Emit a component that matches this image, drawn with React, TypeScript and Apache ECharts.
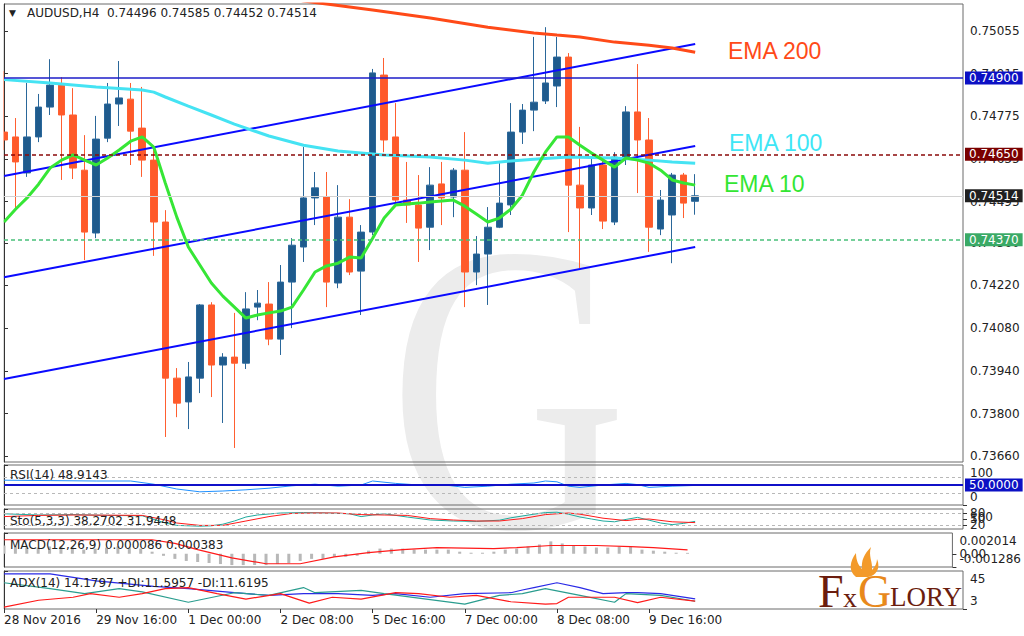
import React, { useEffect, useRef } from "react";
import * as echarts from "echarts";

const FONT = "DejaVu Sans";

const symbolTitle = "AUDUSD,H4";
const timeLabels = ["28 Nov 2016", "29 Nov 16:00", "1 Dec 00:00", "2 Dec 08:00", "5 Dec 16:00", "7 Dec 00:00", "8 Dec 08:00", "9 Dec 16:00"];
const timeLabelIndex = [0, 8, 16, 24, 32, 40, 48, 56];
const priceTicks = [0.7366, 0.738, 0.7394, 0.7408, 0.7422, 0.7436, 0.74495, 0.74635, 0.74775, 0.74915, 0.75055];

// [open, close, low, high]
const candles = [
  [0.74723, 0.74697, 0.74664, 0.74923],
  [0.74707, 0.74625, 0.74467, 0.74769],
  [0.74589, 0.74707, 0.74576, 0.74884],
  [0.74707, 0.74805, 0.7469, 0.74848],
  [0.74805, 0.74877, 0.74779, 0.74962],
  [0.74877, 0.74779, 0.74566, 0.74903],
  [0.74779, 0.74605, 0.74569, 0.74867],
  [0.74598, 0.74395, 0.74303, 0.74713],
  [0.74392, 0.747, 0.74375, 0.74776],
  [0.74703, 0.74815, 0.7469, 0.74884],
  [0.74815, 0.74835, 0.74743, 0.74956],
  [0.74831, 0.74726, 0.74615, 0.74884],
  [0.74736, 0.74631, 0.74576, 0.74871],
  [0.74631, 0.74428, 0.74317, 0.74664],
  [0.74428, 0.73916, 0.73723, 0.74467],
  [0.73916, 0.73834, 0.73788, 0.73949],
  [0.73838, 0.7392, 0.73749, 0.73969],
  [0.73916, 0.74156, 0.73867, 0.74159],
  [0.74156, 0.73959, 0.73854, 0.74165],
  [0.73959, 0.73985, 0.73769, 0.73998],
  [0.73985, 0.73965, 0.73687, 0.7413],
  [0.73965, 0.74143, 0.73946, 0.74198],
  [0.74149, 0.74162, 0.74106, 0.74205],
  [0.74159, 0.74044, 0.74024, 0.74231],
  [0.74044, 0.74231, 0.73992, 0.74287],
  [0.74231, 0.74352, 0.7408, 0.74375],
  [0.74346, 0.74507, 0.74297, 0.74674],
  [0.74507, 0.7454, 0.74418, 0.74592],
  [0.7451, 0.74231, 0.74149, 0.74592],
  [0.74228, 0.74444, 0.74211, 0.74549],
  [0.74444, 0.74264, 0.74254, 0.74503],
  [0.74267, 0.74395, 0.74123, 0.74418],
  [0.74395, 0.74917, 0.74385, 0.7493],
  [0.7491, 0.74697, 0.74657, 0.74966],
  [0.74707, 0.745, 0.74484, 0.74818],
  [0.745, 0.74484, 0.74425, 0.74625],
  [0.74484, 0.74408, 0.74297, 0.74582],
  [0.74411, 0.74549, 0.74336, 0.74608],
  [0.74553, 0.74507, 0.74418, 0.74625],
  [0.7451, 0.74598, 0.74444, 0.74605],
  [0.74598, 0.74264, 0.74149, 0.74723],
  [0.74264, 0.74323, 0.74221, 0.74382],
  [0.74323, 0.74411, 0.74156, 0.74477],
  [0.74411, 0.7449, 0.74408, 0.74621],
  [0.74484, 0.74723, 0.74451, 0.74818],
  [0.74723, 0.74795, 0.74684, 0.74815],
  [0.74795, 0.74821, 0.74726, 0.75035],
  [0.74825, 0.74884, 0.74815, 0.75067],
  [0.74874, 0.74969, 0.74805, 0.75035],
  [0.74969, 0.74549, 0.74395, 0.74982],
  [0.74549, 0.74474, 0.74277, 0.7474],
  [0.74474, 0.74615, 0.74451, 0.74641],
  [0.74615, 0.74431, 0.74405, 0.74631],
  [0.74428, 0.74641, 0.74418, 0.74657],
  [0.74641, 0.74789, 0.74615, 0.74808],
  [0.74789, 0.74697, 0.74523, 0.74946],
  [0.74697, 0.74411, 0.7433, 0.74769],
  [0.74405, 0.745, 0.74385, 0.74533],
  [0.74451, 0.74582, 0.74293, 0.74589],
  [0.74582, 0.7449, 0.74441, 0.74589],
  [0.74496, 0.74514, 0.74452, 0.74585],
];

const ema10 = [
  0.74428, 0.7447, 0.74507, 0.74552, 0.74605, 0.74631, 0.74648, 0.74631, 0.74615, 0.74638,
  0.74664, 0.74693, 0.74707, 0.74674, 0.74556, 0.74444, 0.74346, 0.74287, 0.74228, 0.74185,
  0.74149, 0.74113, 0.74123, 0.7413, 0.74136, 0.74149, 0.74205, 0.74264, 0.74284, 0.74293,
  0.74313, 0.7431, 0.74375, 0.74441, 0.74484, 0.74487, 0.7449, 0.74494, 0.74497, 0.745,
  0.7448, 0.74454, 0.74428, 0.74441, 0.7447, 0.74516, 0.74592, 0.74657, 0.74707, 0.74707,
  0.7468, 0.74654, 0.74631, 0.74608, 0.74638, 0.74631, 0.74621, 0.74598, 0.74566, 0.74556,
  0.74549,
];

const ema100 = [
  [0, 0.74895], [4, 0.74884], [8, 0.74871], [12, 0.74861], [13, 0.74854], [14, 0.74838],
  [16, 0.74808], [18, 0.74779], [20, 0.74749], [23, 0.7471], [26, 0.7468], [29, 0.74661],
  [33, 0.74648], [37, 0.74641], [40, 0.74631], [42, 0.74621], [44, 0.74628], [46, 0.74634],
  [49, 0.74641], [53, 0.74638], [56, 0.74631], [58, 0.74625], [60, 0.74621],
];

const ema200 = [
  [22, 0.75182], [26, 0.75153], [28, 0.75143], [32, 0.75123], [37, 0.75097], [42, 0.75067],
  [46, 0.75048], [48, 0.75041], [50, 0.75035], [53, 0.75018], [56, 0.75008], [58, 0.74999],
  [60, 0.74985],
];

const channelUpper = [[0, 0.74579], [60, 0.75012]];
const channelMiddle = [[0, 0.74247], [60, 0.74677]];
const channelLower = [[0, 0.73913], [60, 0.74346]];

const levelBlue = 0.749;
const levelRed = 0.7465;
const levelBid = 0.74514;
const levelGreen = 0.7437;

const rsi = [
  [0, 62], [4, 61], [8, 60], [11, 60], [13, 52], [15, 40], [17, 33], [19, 35], [21, 38], [23, 42],
  [25, 48], [27, 52], [29, 47], [31, 50], [32, 60], [34, 54], [36, 50], [38, 51], [40, 44], [42, 47],
  [44, 52], [46, 55], [47, 60], [48, 58], [49, 47], [50, 44], [52, 50], [54, 54], [55, 51], [56, 44],
  [58, 47], [60, 48.9143],
];
const rsiLast = 48.9143;

const stochMain = [
  [0, 76], [3, 70], [6, 72], [9, 68], [12, 66], [14, 30], [15, 18], [17, 14], [18, 16], [19, 24],
  [20, 40], [21, 60], [22, 70], [24, 80], [26, 82], [28, 80], [30, 76], [31, 62], [32, 70], [33, 76],
  [35, 60], [37, 45], [39, 40], [41, 38], [43, 44], [44, 56], [46, 74], [47, 82], [48, 84], [49, 74],
  [50, 60], [51, 50], [52, 40], [53, 36], [54, 48], [55, 58], [56, 44], [57, 30], [58, 22], [59, 28],
  [60, 38.2702],
];
const stochSignal = [
  [0, 62], [3, 68], [6, 70], [9, 69], [12, 68], [14, 45], [15, 30], [17, 18], [19, 18], [21, 40],
  [23, 62], [25, 78], [27, 80], [29, 80], [31, 72], [33, 70], [35, 68], [37, 52], [39, 45], [41, 40],
  [43, 40], [45, 52], [47, 72], [49, 80], [50, 74], [52, 54], [54, 42], [55, 48], [56, 50], [58, 36],
  [60, 31.9448],
];
const stochLast = [38.2702, 31.9448];

const macdMain = [
  0.0008, 0.0007, 0.0006, 0.0006, 0.0007, 0.0007, 0.0006, 0.0004, 0.0005, 0.0006,
  0.0007, 0.0006, 0.0005, 0.0002, -0.0002, -0.0005, -0.0007, -0.0008, -0.0009, -0.001,
  -0.0011, -0.0011, -0.0011, -0.0011, -0.001, -0.0009, -0.0007, -0.0005, -0.0005, -0.0003,
  -0.0003, -0.0002, 0.0003, 0.0005, 0.0005, 0.0005, 0.0004, 0.0004, 0.0004, 0.0004,
  0.0002, 0.0001, 0.0001, 0.0002, 0.0004, 0.0005, 0.0007, 0.0009, 0.0012, 0.001,
  0.0008, 0.0007, 0.0006, 0.0006, 0.0007, 0.0007, 0.0004, 0.0003, 0.0002, 0.0001,
  0.000086,
];
const macdSignal = [
  [0, 0.00136], [6, 0.00136], [13, 0.00136], [15, 0.001], [17, 0.0004], [20, -0.0004], [23, -0.00097],
  [26, -0.00097], [29, -0.0003], [32, 0.0001], [35, 0.0004], [38, 0.0006], [43, 0.0005], [45, 0.0006],
  [48, 0.0008], [52, 0.0008], [55, 0.0007], [57, 0.0006], [60, 0.000383],
];
const macdLast = ["0.000086", "0.000383"];

const adx = [
  [0, 41.8], [4, 41.8], [8, 34], [13, 28], [16, 25.6], [20, 21], [23, 18], [26, 20], [29, 20], [32, 18],
  [34, 20], [37, 16], [40, 20], [44, 21], [45, 24], [46, 26.7], [48, 32], [50, 26.7], [52, 20], [54, 21],
  [55, 21], [57, 20], [60, 14.1797],
];
const plusDi = [
  [0, 32], [4, 25.6], [7, 20], [10, 25.6], [12, 22], [16, 10.5], [20, 21], [23, 18], [26, 26.7], [27, 21],
  [31, 23.5], [33, 20], [36, 15], [40, 8.4], [43, 18], [45, 20], [47, 25.6], [50, 18], [53, 10.5], [54, 20],
  [57, 18], [60, 11.5957],
];
const minusDi = [
  [0, 5], [3, 12.7], [6, 16], [7.5, 20], [10, 16], [12, 20], [14, 25.6], [16, 26.7], [18.5, 20], [21, 14],
  [24, 20], [26.5, 9.5], [28.5, 16], [31, 14], [34, 21], [36, 20], [38.7, 16], [41, 18], [44, 11], [47, 8.4],
  [48, 9], [49, 16], [53, 16], [55, 10], [57, 16], [60, 11.6195],
];
const adxLast = [14.1797, 11.5957, 11.6195];

// indicator scale labels: [value, text, shift]
const rsiScale: [number, string, string][] = [[100, "100", "dn"], [0, "0", "up"]];
const stochScale: [number, string, string][] = [[100, "100", "dn"], [80, "80", "n"], [50, "50", "n"], [20, "20", "n"]];
const macdScale: [number, string, string][] = [[0.002014, "0.002014", "dn"], [0, "0.00", "n"], [-0.001286, "-0.001286", "up"]];
const adxScale: [number, string, string][] = [[45, "45", "dn"], [3, "3", "up"]];

const flamePath =
  "M10 30 C2 24 4 14 10 6 C10 14 13 19 16 22 C15 14 18 7 25 0 C22 9 27 15 26 23 C29 20 31 16 31 12 C35 21 30 29 22 30 Z";
echarts.graphic.registerShape("flame", echarts.graphic.extendPath(flamePath, {}));

const XMAX = 83.25;

function buildOption() {
  const lab = { fontSize: 12, fontFamily: FONT, color: "#222" };
  const rich = {
    dn: { ...lab, padding: [16, 0, 0, 0] },
    up: { ...lab, padding: [0, 0, 16, 0] },
    n: { ...lab },
  };
  const gridDefs = [
    { top: 4, height: 458 },
    { top: 465, height: 40 },
    { top: 509, height: 20 },
    { top: 533, height: 34 },
    { top: 571, height: 38 },
  ];
  const grid = gridDefs.map((g) => ({
    left: 4, right: 61, top: g.top, height: g.height,
    show: true, borderColor: "#6a6a6a", borderWidth: 1, backgroundColor: "transparent",
  }));
  const xAxis = [0, 1, 2, 3, 4].map((i) => ({
    type: "value", gridIndex: i, min: 0, max: XMAX, show: i === 4,
    axisLine: { show: false }, splitLine: { show: false },
    axisTick: { show: i === 4, customValues: timeLabelIndex, length: 4, lineStyle: { color: "#333" } },
    axisLabel: {
      show: i === 4, customValues: timeLabelIndex,
      formatter: (v: number) => timeLabels[timeLabelIndex.indexOf(Math.round(v))] ?? "",
      align: "left", margin: 5, ...lab,
    },
  }));

  const yAxis: any[] = [];
  const mainAxisOf: number[] = [];
  yAxis.push({
    type: "value", gridIndex: 0, position: "right", min: 0.73641, max: 0.75143,
    axisLine: { show: true, lineStyle: { color: "#333", width: 1 } },
    axisTick: { show: true, length: 4, customValues: priceTicks, lineStyle: { color: "#333" } },
    axisLabel: { customValues: priceTicks, formatter: (v: number) => v.toFixed(5), margin: 7, ...lab },
    splitLine: { show: false },
  });
  mainAxisOf.push(0);
  const panels: [number, number, number, [number, string, string][]][] = [
    [1, 0, 100, rsiScale],
    [2, 0, 100, stochScale],
    [3, -0.001286, 0.002014, macdScale],
    [4, 3, 45, adxScale],
  ];
  panels.forEach(([g, mn, mx, scale]) => {
    mainAxisOf[g] = yAxis.length;
    scale.forEach(([val, text, shift], k) => {
      yAxis.push({
        type: "value", gridIndex: g, position: "right", min: mn, max: mx,
        axisLine: { show: k === 0, lineStyle: { color: "#333", width: 1 } },
        axisTick: { show: true, length: 4, customValues: [val], lineStyle: { color: "#333" } },
        axisLabel: {
          customValues: [val], formatter: () => "{" + shift + "|" + text + "}",
          margin: 7, ...lab, rich, showMinLabel: true, showMaxLabel: true,
        },
        splitLine: { show: false },
      });
    });
  });

  const tag = (bg: string, text: string) => ({
    show: true, position: "end", distance: 2, formatter: text,
    color: "#fff", backgroundColor: bg, padding: [1, 4, 0, 4], fontSize: 12, fontFamily: FONT,
  });

  const line = (g: number, data: any, color: string, width: number, extra: any = {}) => ({
    type: "line", xAxisIndex: g, yAxisIndex: mainAxisOf[g], data, showSymbol: false, symbol: "none",
    lineStyle: { color, width }, silent: true, z: 4, ...extra,
  });

  const mk = (data: any[]) => ({ symbol: ["none", "none"], silent: true, animation: false, precision: 6, data });

  const priceLevels = mk([
    { yAxis: levelBid, lineStyle: { color: "#d2d2d2", width: 1, type: "solid" }, label: tag("#202020", levelBid.toFixed(5)) },
    { yAxis: levelBlue, lineStyle: { color: "#1c1cc8", width: 1.5, type: "solid" }, label: tag("#0c10c4", levelBlue.toFixed(5)) },
    { yAxis: levelRed, lineStyle: { color: "#8b0a0a", width: 1.5, type: [4, 3] }, label: tag("#7a0000", levelRed.toFixed(5)) },
    { yAxis: levelGreen, lineStyle: { color: "#48c07a", width: 1.5, type: [4, 3] }, label: tag("#3aaa66", levelGreen.toFixed(5)) },
  ]);

  const series: any[] = [
    {
      type: "candlestick", xAxisIndex: 0, yAxisIndex: 0,
      data: candles.map((c, i) => [i, c[0], c[1], c[2], c[3]]),
      encode: { x: 0, y: [1, 2, 3, 4] },
      barWidth: 7,
      itemStyle: { color: "#1f5b8d", color0: "#ff5a2a", borderColor: "#2a679a", borderColor0: "#ff5f30", borderWidth: 1 },
      z: 3,
    },
    line(0, channelUpper, "#0a0aff", 2, { markLine: priceLevels }),
    line(0, channelMiddle, "#0a0aff", 2),
    line(0, channelLower, "#0a0aff", 2),
    line(0, ema200, "#ff4a18", 3),
    line(0, ema100, "#45e3f3", 3),
    line(0, ema10.map((v, i) => [i, v]), "#36e636", 3),
    line(1, rsi, "#1e90ff", 1, {
      markLine: mk([
        { yAxis: 70, lineStyle: { color: "#b8b8b8", width: 1, type: [3, 3] }, label: { show: false } },
        { yAxis: 30, lineStyle: { color: "#b8b8b8", width: 1, type: [3, 3] }, label: { show: false } },
        { yAxis: 50, lineStyle: { color: "#1010c8", width: 2, type: "solid" }, label: tag("#0c10c4", "50.0000") },
      ]),
    }),
    line(2, stochMain, "#20aa9e", 1, {
      markLine: mk([
        { yAxis: 80, lineStyle: { color: "#b8b8b8", width: 1, type: [3, 3] }, label: { show: false } },
        { yAxis: 20, lineStyle: { color: "#b8b8b8", width: 1, type: [3, 3] }, label: { show: false } },
      ]),
    }),
    line(2, stochSignal, "#ff1a1a", 1),
    {
      type: "bar", xAxisIndex: 3, yAxisIndex: mainAxisOf[3], barWidth: 3, silent: true,
      data: macdMain.map((v, i) => [i, v]), itemStyle: { color: "#b8b8b8" },
    },
    line(3, macdSignal, "#ff1a1a", 1.2),
    line(4, adx, "#2a2ae6", 1.2),
    line(4, plusDi, "#2a9d8f", 1.2),
    line(4, minusDi, "#ff1a1a", 1.2),
  ];

  const last = candles[candles.length - 1];
  const ohlc = [last[0], last[3], last[2], last[1]].map((v) => v.toFixed(5)).join(" ");
  const txt = (x: number, y: number, text: string, extra: any = {}) => ({
    type: "text", x, y, z: 10, silent: true,
    style: { text, fontSize: 12, fontFamily: FONT, fill: "#222", align: "left", verticalAlign: "middle", ...extra },
  });

  const graphic = [
    {
      type: "text", x: 508, y: 388, z: -1, silent: true, scaleX: 1, scaleY: 1.25,
      style: { text: "G", fontSize: 330, fontFamily: "Liberation Serif", fill: "#ececec", align: "center", verticalAlign: "middle" },
    },
    { type: "rect", z: 20, silent: true, shape: { x: 0, y: 0, width: 3.5, height: 636 }, style: { fill: "#ffffff" } },
    txt(9, 13, "▼", { fontSize: 9 }),
    txt(27, 13, symbolTitle + "  " + ohlc),
    txt(10, 475, "RSI(14) " + rsiLast.toFixed(4)),
    txt(10, 521, "Sto(5,3,3) " + stochLast[0].toFixed(4) + " " + stochLast[1].toFixed(4)),
    txt(10, 545, "MACD(12,26,9) " + macdLast[0] + " " + macdLast[1]),
    txt(10, 583, "ADX(14) " + adxLast[0].toFixed(4) + " +DI:" + adxLast[1].toFixed(4) + " -DI:" + adxLast[2].toFixed(4)),
    txt(728, 51, "EMA 200", { fontSize: 23, fontFamily: "Liberation Sans", fill: "#ff4a18" }),
    txt(729, 143, "EMA 100", { fontSize: 23, fontFamily: "Liberation Sans", fill: "#3ee6f6" }),
    txt(724, 184, "EMA 10", { fontSize: 23, fontFamily: "Liberation Sans", fill: "#33e633" }),
    { type: "flame", x: 846, y: 547, scaleX: 1, scaleY: 1, z: 10, silent: true, style: { fill: "#f39a2a" } },
    txt(818, 591, "F", { fontSize: 46, fontFamily: "Liberation Serif", fill: "#6b1d0e" }),
    txt(843, 597, "x", { fontSize: 28, fontFamily: "Liberation Serif", fill: "#6b1d0e" }),
    txt(858, 591, "G", { fontSize: 46, fontFamily: "Liberation Serif", fill: "#e8891c" }),
    txt(890, 597, "LORY", { fontSize: 27, fontFamily: "Liberation Serif", fill: "#6b1d0e" }),
  ];

  return { animation: false, backgroundColor: "#ffffff", grid, xAxis, yAxis, series, graphic };
}

export default function App() {
  const ref = useRef<HTMLDivElement>(null);
  useEffect(() => {
    if (!ref.current) return;
    const chart = echarts.init(ref.current, undefined, { renderer: "svg" });
    chart.setOption(buildOption() as any);
    return () => chart.dispose();
  }, []);
  return <div ref={ref} style={{ position: "fixed", left: 0, top: 0, width: 1024, height: 636, background: "#fff" }} />;
}
